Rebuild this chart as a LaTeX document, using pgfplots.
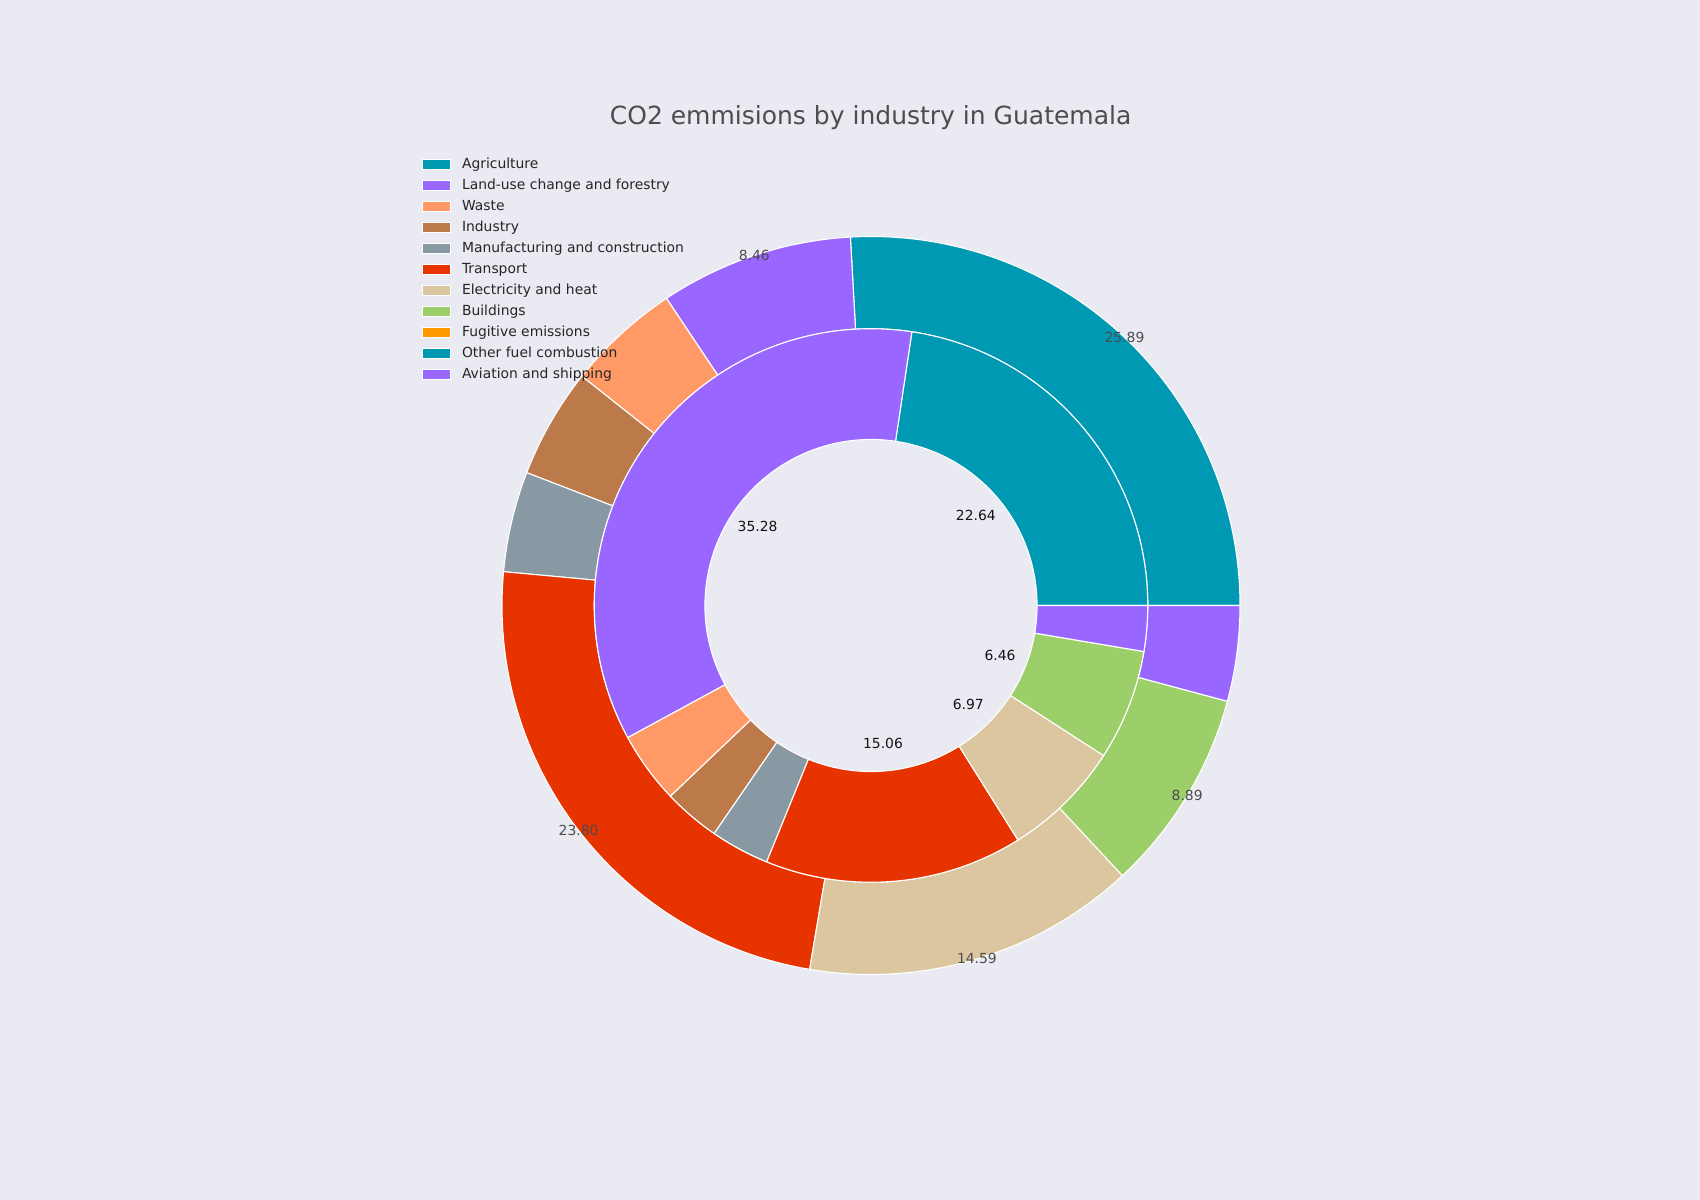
\documentclass[border=0pt]{standalone}
\usepackage{pgfplots}
\pgfplotsset{compat=1.18}
\usepackage{pgfplotstable}
\usepackage{fontspec}
\setmainfont{DejaVu Sans}

\definecolor{bg}{HTML}{EAEAF2}
\definecolor{c0}{HTML}{0099B4}
\definecolor{c1}{HTML}{9966FF}
\definecolor{c2}{HTML}{FF9966}
\definecolor{c3}{HTML}{BC7A4B}
\definecolor{c4}{HTML}{8899A3}
\definecolor{c5}{HTML}{E63300}
\definecolor{c6}{HTML}{DBC6A0}
\definecolor{c7}{HTML}{9CCE69}
\definecolor{c8}{HTML}{FF9900}
\definecolor{c9}{HTML}{0099B4}
\definecolor{c10}{HTML}{9966FF}
\definecolor{titlegray}{HTML}{4D4D4D}
\definecolor{lblgray}{HTML}{4D4D4D}
\definecolor{lblblack}{HTML}{141414}
\definecolor{legtext}{HTML}{262626}

% shares in percent: outer ring and inner ring
\pgfplotstableread{
cat outer inner
0  25.89 22.64
1  8.46  35.28
2  4.98  4.18
3  4.81  3.31
4  4.40  3.44
5  23.80 15.06
6  14.59 6.97
7  8.89  6.46
8  0     0
9  0     0
10 4.18  2.66
}\data

\def\cx{871}
\def\cy{594.5}
\newcommand\lbl{\fontsize{10}{12}\selectfont}

% #1 column, #2 inner radius, #3 outer radius, #4 label radius (axis units), #5 label colour
\newcommand\ring[5]{%
  \gdef\acc{0}%
  \pgfplotstablegetrowsof{\data}%
  \pgfmathtruncatemacro\N{\pgfplotsretval-1}%
  \foreach \i in {0,...,\N}{%
    \pgfplotstablegetelem{\i}{#1}\of\data
    \let\v\pgfplotsretval
    \pgfmathsetmacro\a{\acc*3.6}%
    \pgfmathsetmacro\b{(\acc+\v)*3.6}%
    \pgfmathsetmacro\ro{#3*0.72}%
    \pgfmathsetmacro\ri{#2*0.72}%
    \ifdim\v pt>0pt
      \edef\tmp{\noexpand\fill[c\i, draw=white, line width=0.8pt]
        ([shift={(\a:\ro pt)}]axis cs:\cx,\cy) arc[start angle=\a, end angle=\b, radius=\ro pt]
        -- ([shift={(\b:\ri pt)}]axis cs:\cx,\cy) arc[start angle=\b, end angle=\a, radius=\ri pt] -- cycle;}%
      \tmp
    \fi
    \pgfmathsetmacro\t{\acc+\v}%
    \xdef\acc{\t}%
  }%
  \gdef\acc{0}%
  \foreach \i in {0,...,\N}{%
    \pgfplotstablegetelem{\i}{#1}\of\data
    \let\v\pgfplotsretval
    \pgfmathsetmacro\m{(\acc+\v/2)*3.6}%
    \ifdim\v pt>5pt
      \pgfmathsetmacro\lx{\cx+#4*cos(\m)}%
      \pgfmathsetmacro\ly{\cy+#4*sin(\m)}%
      \edef\tmp{\noexpand\node[text=#5, font=\noexpand\lbl, inner sep=0pt] at (axis cs:\lx,\ly)
        {\noexpand\pgfmathprintnumber[fixed, fixed zerofill, precision=2, assume math mode=true]{\v}};}%
      \tmp
    \fi
    \pgfmathsetmacro\t{\acc+\v}%
    \xdef\acc{\t}%
  }%
}

\begin{document}
\begin{tikzpicture}
\begin{axis}[
  x=0.72pt, y=0.72pt,
  xmin=0, xmax=1700, ymin=0, ymax=1200,
  hide axis, clip=false,
  legend cell align=left,
  legend style={at={(axis cs:422.3,1042)}, anchor=north west,
    draw=none, fill=none, inner sep=0pt, outer sep=0pt,
    font=\fontsize{10}{12}\selectfont, text=legtext,
    row sep=5.63pt, column sep=0pt,
    cells={anchor=west},
    nodes={inner sep=0pt, text height=7.3pt, text depth=2.2pt}},
  legend image code/.code={\draw[#1] (0pt,-3.5pt) rectangle (20pt,3.5pt); \path (28pt,0pt);},
]
\fill[bg] (axis cs:0,0) rectangle (axis cs:1700,1200);

\ring{outer}{276.75}{369}{369}{lblgray}
\ring{inner}{166.05}{276.75}{138.4}{lblblack}

\node[font=\fontsize{18}{21}\selectfont, text=titlegray, anchor=base] at (axis cs:870.6,1075) {CO2 emmisions by industry in Guatemala};

\addlegendimage{fill=c0, draw=white, line width=0.6pt}\addlegendentry{Agriculture}
\addlegendimage{fill=c1, draw=white, line width=0.6pt}\addlegendentry{Land-use change and forestry}
\addlegendimage{fill=c2, draw=white, line width=0.6pt}\addlegendentry{Waste}
\addlegendimage{fill=c3, draw=white, line width=0.6pt}\addlegendentry{Industry}
\addlegendimage{fill=c4, draw=white, line width=0.6pt}\addlegendentry{Manufacturing and construction}
\addlegendimage{fill=c5, draw=white, line width=0.6pt}\addlegendentry{Transport}
\addlegendimage{fill=c6, draw=white, line width=0.6pt}\addlegendentry{Electricity and heat}
\addlegendimage{fill=c7, draw=white, line width=0.6pt}\addlegendentry{Buildings}
\addlegendimage{fill=c8, draw=white, line width=0.6pt}\addlegendentry{Fugitive emissions}
\addlegendimage{fill=c9, draw=white, line width=0.6pt}\addlegendentry{Other fuel combustion}
\addlegendimage{fill=c10, draw=white, line width=0.6pt}\addlegendentry{Aviation and shipping}
\end{axis}
\end{tikzpicture}
\end{document}
